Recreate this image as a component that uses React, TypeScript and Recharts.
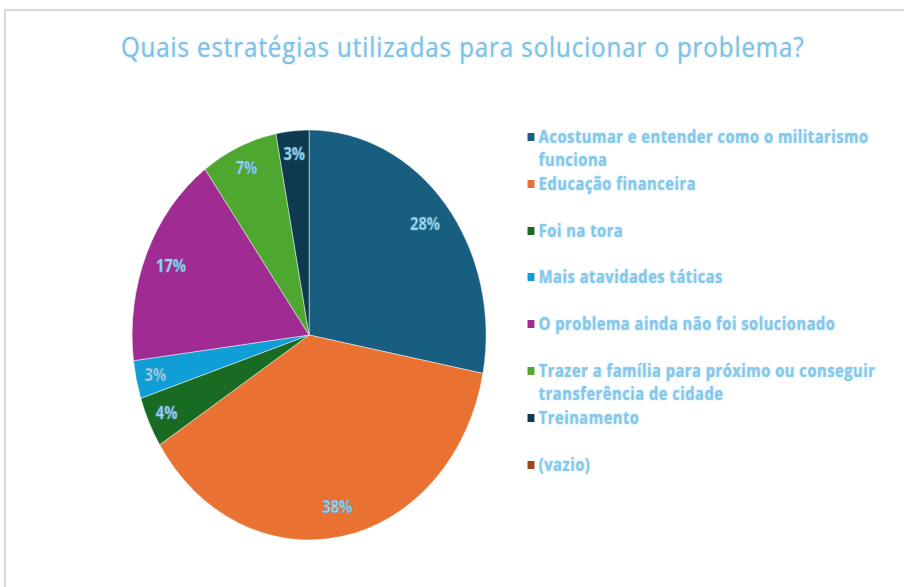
import { PieChart, Pie, Cell, Legend } from "recharts";

// Categories, values (percent) and slice colours
const categories = [
  "Acostumar e entender como o militarismo funciona",
  "Educação financeira",
  "Foi na tora",
  "Mais atavidades táticas",
  "O problema ainda não foi solucionado",
  "Trazer a família para próximo ou conseguir transferência de cidade",
  "Treinamento",
  "(vazio)",
];
const values = [28, 38, 4, 3, 17, 7, 3, 0];
const colors = [
  "#175E80",
  "#E97132",
  "#196B24",
  "#0F9ED5",
  "#A02B93",
  "#4EA72E",
  "#0E3A50",
  "#A0431A",
];

const TITLE = "Quais estratégias utilizadas para solucionar o problema?";

// the reference is squeezed horizontally, so the pie is an ellipse
const SX = 0.8634;
const W = Math.round(904 / SX);
const H = 587;
const FONT = "'Open Sans', 'DejaVu Sans', sans-serif";
const TEXT_BLUE = "#84C9EC";

const chartData = categories.map((name, i) => ({ name, value: values[i] }));

const RAD = Math.PI / 180;

function renderLabel(props: any) {
  const { cx, cy, midAngle, outerRadius, value, percent } = props;
  if (!value) return null;
  const r = outerRadius * (percent < 0.1 ? 0.89 : 0.85);
  const x = cx + r * Math.cos(-midAngle * RAD);
  const y = cy + r * Math.sin(-midAngle * RAD);
  return (
    <text
      x={x}
      y={y}
      textAnchor="middle"
      dominantBaseline="central"
      fill="#A6DBF4"
      stroke="#5A9FC4"
      strokeWidth={0.6}
      fontFamily={FONT}
      fontWeight={700}
      fontSize={17}
    >
      {value}%
    </text>
  );
}

function LegendBox() {
  return (
    <div style={{ fontFamily: FONT }}>
      {categories.map((name, i) => (
        <div
          key={name}
          style={{ position: "relative", height: 46.8, paddingLeft: 13 }}
        >
          <span
            style={{
              position: "absolute",
              left: 0,
              top: 8,
              width: 8,
              height: 8,
              background: colors[i],
            }}
          />
          <div
            style={{
              width: 425,
              fontSize: 17,
              letterSpacing: 0.6,
              lineHeight: "23px",
              fontWeight: 700,
              color: TEXT_BLUE,
              textShadow: "0 0 2px rgba(110,180,220,0.6)",
            }}
          >
            {name}
          </div>
        </div>
      ))}
    </div>
  );
}

export default function App() {
  return (
    <div
      style={{
        position: "fixed",
        left: 0,
        top: 0,
        width: 904,
        height: 587,
        overflow: "hidden",
        background: "#fff",
      }}
    >
      <div
        style={{
          position: "absolute",
          left: 4,
          top: 9,
          width: 920,
          height: 600,
          border: "2px solid #D9D9D9",
          boxSizing: "border-box",
        }}
      />
      <div
        style={{
          position: "absolute",
          left: 0,
          top: 0,
          width: W,
          height: H,
          transform: `scaleX(${SX})`,
          transformOrigin: "0 0",
        }}
      >
        <div
          style={{
            position: "absolute",
            left: 0,
            top: 28,
            width: 1072,
            textAlign: "center",
            fontFamily: FONT,
            fontSize: 28,
            letterSpacing: 1,
            lineHeight: "36px",
            color: "#7CC2E8",
            textShadow: "0 0 2px rgba(110,180,220,0.5)",
          }}
        >
          {TITLE}
        </div>
        <PieChart
          width={W}
          height={H}
          margin={{ top: 0, right: 0, bottom: 0, left: 0 }}
        >
          <Pie
            data={chartData}
            dataKey="value"
            nameKey="name"
            cx={358}
            cy={335}
            outerRadius={205}
            startAngle={90}
            endAngle={-270}
            stroke="#ffffff"
            strokeWidth={0.5}
            label={renderLabel}
            labelLine={false}
            isAnimationActive={false}
          >
            {chartData.map((d, i) => (
              <Cell key={d.name} fill={colors[i]} />
            ))}
          </Pie>
          <Legend
            content={() => <LegendBox />}
            wrapperStyle={{ position: "absolute", left: 611, top: 125, width: 445 }}
          />
        </PieChart>
      </div>
    </div>
  );
}
